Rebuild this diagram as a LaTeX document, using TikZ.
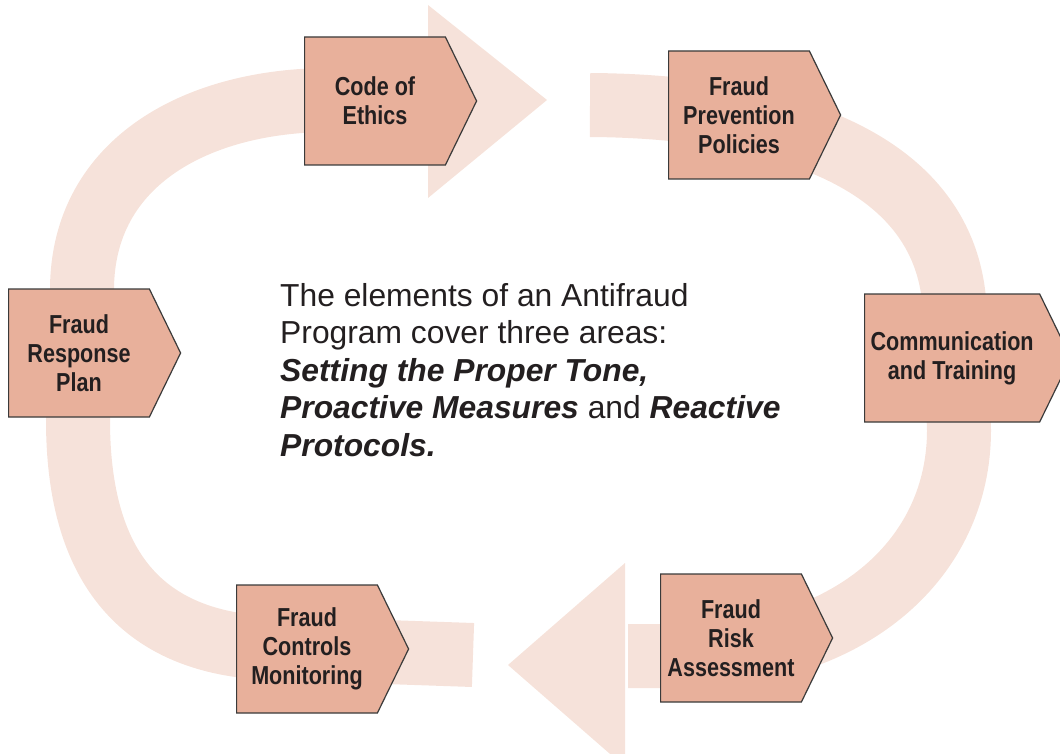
\documentclass[tikz,border=0pt]{standalone}
\usepackage{fontspec}
\setmainfont{Liberation Sans}
\newfontfamily\narrowbold[FakeStretch=0.83]{Liberation Sans Bold}
\usetikzlibrary{shapes.symbols}
\definecolor{ink}{HTML}{231F20}
\definecolor{edge}{HTML}{3A3A3A}
\definecolor{salmon}{HTML}{E8B09B}
\definecolor{blush}{HTML}{F6E2DA}

\begin{document}
\begin{tikzpicture}[x=1pt, y=-1pt,
    band/.style={blush, line width=64pt},
    stepbox/.style={signal, signal to=east, signal pointer angle=128, fill=salmon, draw=edge,
      line width=1.2pt, minimum width=172pt, minimum height=128pt, inner xsep=6pt,
      align=center, text=ink, font=\narrowbold\fontsize{26}{29}\selectfont, anchor=west}]
  \useasboundingbox (0, 0) rectangle (1060, 754);
  % the two broad arrows of the cycle
  \draw[band] (473, 655) -- (270, 648) .. controls (120, 642) and (78, 540) .. (78, 420)
    -- (82, 290) .. controls (82, 160) and (200, 100) .. (330, 100) -- (432, 100);
  \fill[blush] (428, 5) -- (547, 100) -- (428, 198) -- cycle;
  \draw[band] (590, 105) .. controls (760, 106) and (955, 150) .. (955, 320)
    -- (959, 430) .. controls (959, 560) and (850, 650) .. (700, 656) -- (628, 656);
  \fill[blush] (625, 563) -- (508, 665) -- (625, 767) -- cycle;
  % steps
  \node[stepbox] (ethics) at (304, 101) {Code of\\Ethics};
  \node[stepbox] (prevention) at (668, 115) {Fraud\\Prevention\\Policies};
  \node[stepbox] (training) at (864, 358) {Communication\\and Training};
  \node[stepbox] (risk) at (660, 638) {Fraud\\Risk\\Assessment};
  \node[stepbox] (monitoring) at (236, 649) {Fraud\\Controls\\Monitoring};
  \node[stepbox] (response) at (8, 353) {Fraud\\Response\\Plan};
  % centre text (base is the last line)
  \node[anchor=base west, align=left, text=ink, inner sep=0pt, font=\fontsize{31.8}{37.5}\selectfont]
    (areas) at (280, 456) {The elements of an Antifraud\\Program cover three areas:\\
    \textbf{\textit{Setting the Proper Tone,}}\\
    \textbf{\textit{Proactive Measures}} and \textbf{\textit{Reactive}}\\
    \textbf{\textit{Protocols.}}};
\end{tikzpicture}
\end{document}
